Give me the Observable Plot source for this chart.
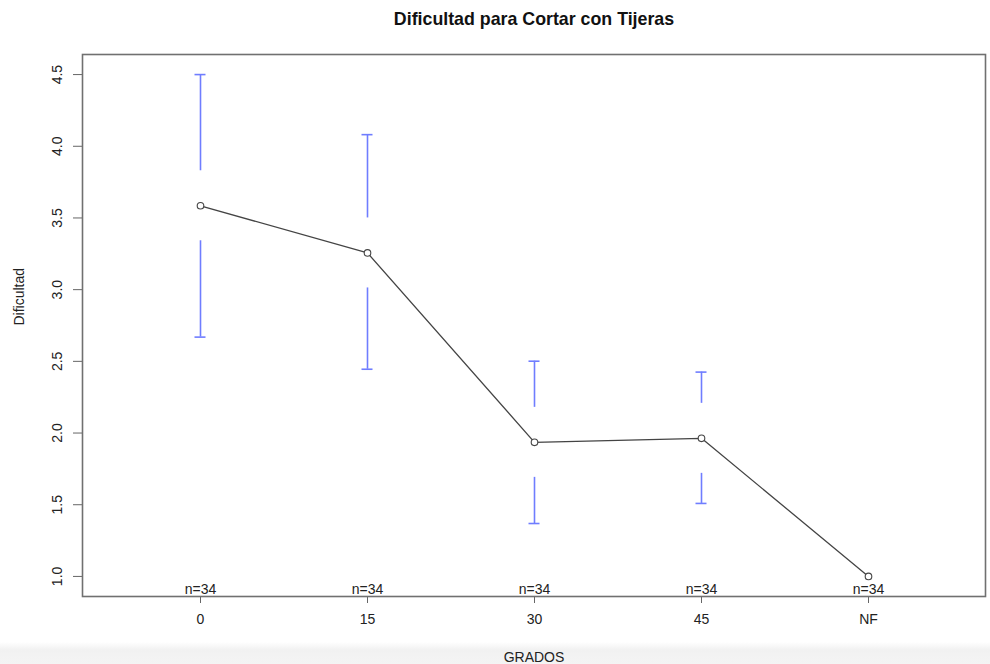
<!DOCTYPE html>
<html><head><meta charset="utf-8">
<script src="https://cdn.jsdelivr.net/npm/d3@7"></script>
<script src="https://cdn.jsdelivr.net/npm/@observablehq/plot@0.6"></script>
<style>
html,body{margin:0;padding:0;}
body{width:990px;height:664px;background:linear-gradient(to bottom,#fff 0,#fff 642px,#f1f1f1 650px,#f4f4f4 664px);font-family:"Liberation Sans",Arial,sans-serif;overflow:hidden}
</style></head><body><div id="chart"></div>
<script>
const grados = ["0", "15", "30", "45", "NF"];
const medias = [3.585, 3.256, 1.935, 1.963, 1.0];
const limInf = [2.669, 2.445, 1.369, 1.509, 1.0];
const limSup = [4.5, 4.081, 2.501, 2.425, 1.0];
const nObs = [34, 34, 34, 34, 34];
const yTicks = [1.0, 1.5, 2.0, 2.5, 3.0, 3.5, 4.0, 4.5];
const titulo = "Dificultad para Cortar con Tijeras";
const etiquetaX = "GRADOS";
const etiquetaY = "Dificultad";

const datos = grados.map((g, i) => ({grado: g, media: medias[i], lo: limInf[i], hi: limSup[i], n: nObs[i]}));
const barras = datos.filter(d => d.hi > d.lo);
const azul = "#6f7dff";
const gap = 35;

const chart = Plot.plot({
  width: 990,
  height: 664,
  marginTop: 54,
  marginBottom: 68,
  marginLeft: 82,
  marginRight: 5,
  style: {background: "transparent", fontFamily: "'Liberation Sans', Arial, sans-serif", color: "#222", overflow: "visible"},
  x: {type: "point", domain: grados, padding: 0.7},
  y: {domain: [0.86, 4.64]},
  marks: [
    Plot.axisY({ticks: yTicks, tickFormat: d3.format(".1f"), tickSize: 9, tickPadding: 12, tickRotate: -90, fontSize: 14, label: null, stroke: "#666"}),
    Plot.axisX({tickSize: 7, tickPadding: 11, fontSize: 14, label: null, stroke: "#666"}),
    Plot.ruleX(barras, {x: "grado", y1: "hi", y2: "media", insetBottom: gap, stroke: azul, strokeWidth: 1.6}),
    Plot.ruleX(barras, {x: "grado", y1: "media", y2: "lo", insetTop: gap, stroke: azul, strokeWidth: 1.6}),
    Plot.ruleY(barras, {x1: "grado", x2: "grado", y: "hi", insetLeft: -5.5, insetRight: -5.5, stroke: azul, strokeWidth: 1.6}),
    Plot.ruleY(barras, {x1: "grado", x2: "grado", y: "lo", insetLeft: -5.5, insetRight: -5.5, stroke: azul, strokeWidth: 1.6}),
    Plot.line(datos, {x: "grado", y: "media", stroke: "#444", strokeWidth: 1.3}),
    Plot.dot(datos, {x: "grado", y: "media", r: 3.3, stroke: "#444", fill: "white", strokeWidth: 1.1}),
    Plot.text(datos, {x: "grado", text: d => "n=" + d.n, frameAnchor: "bottom", dy: -3, fontSize: 14, fill: "#222"}),
    Plot.frame({stroke: "#707070", strokeWidth: 1.6}),
    Plot.text([titulo], {text: d => d, frameAnchor: "top", dy: -42, fontSize: 17.8, fontWeight: "bold", fill: "#111"}),
    Plot.text([etiquetaX], {text: d => d, frameAnchor: "bottom", dy: 65, fontSize: 14, fill: "#222"}),
    Plot.text([etiquetaY], {text: d => d, frameAnchor: "left", dx: -63, rotate: -90, fontSize: 14, fill: "#222"})
  ]
});
document.getElementById("chart").appendChild(chart);
</script></body></html>
